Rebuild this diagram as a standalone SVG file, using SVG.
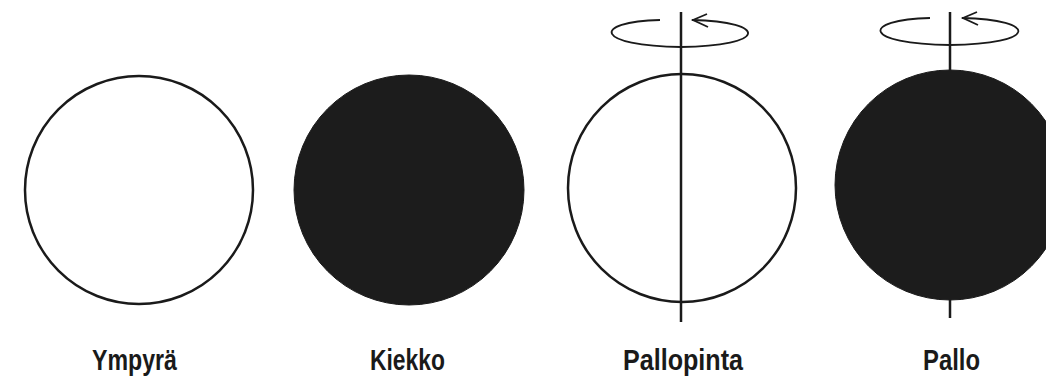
<svg xmlns="http://www.w3.org/2000/svg" width="1046" height="377" viewBox="0 0 1046 377">
<style>
.ring{fill:none;stroke:#1a1a1a;stroke-width:2.5}
.disk{fill:#1c1c1c;stroke:#1c1c1c;stroke-width:1}
.axis{stroke:#1a1a1a;stroke-width:2.5;fill:none}
.rot{fill:none;stroke:#1a1a1a;stroke-width:1.8}
.lbl{font-family:"Liberation Sans","DejaVu Sans",sans-serif;font-size:29px;font-weight:bold;fill:#1a1a1a;text-anchor:middle}
</style>
<rect width="1046" height="377" fill="#fff"/>
<g id="ympyra">
<circle class="ring" cx="139" cy="190" r="114"/>
<text class="lbl" x="134.5" y="370" textLength="85" lengthAdjust="spacingAndGlyphs">Ympyrä</text>
</g>
<g id="kiekko">
<circle class="disk" cx="409" cy="190" r="115"/>
<text class="lbl" x="407.5" y="370" textLength="75" lengthAdjust="spacingAndGlyphs">Kiekko</text>
</g>
<g id="pallopinta">
<circle class="ring" cx="682" cy="188" r="114"/>
<line class="axis" x1="681" y1="12" x2="681" y2="322"/>
<path class="rot" d="M660,20 C590,22 595,46 681,47 C767,46 770,22 692,20"/>
<path class="rot" d="M707,14 L693,20 L708,27"/>
<text class="lbl" x="683" y="370" textLength="120" lengthAdjust="spacingAndGlyphs">Pallopinta</text>
</g>
<g id="pallo">
<line class="axis" x1="950" y1="12" x2="950" y2="318"/>
<circle class="disk" cx="950" cy="185" r="115"/>
<path class="rot" d="M930,18 C860,20 862,44 950,45 C1038,44 1040,20 962,18"/>
<path class="rot" d="M977,12 L963,18 L978,25"/>
<text class="lbl" x="951.5" y="370" textLength="57" lengthAdjust="spacingAndGlyphs">Pallo</text>
</g>
</svg>
